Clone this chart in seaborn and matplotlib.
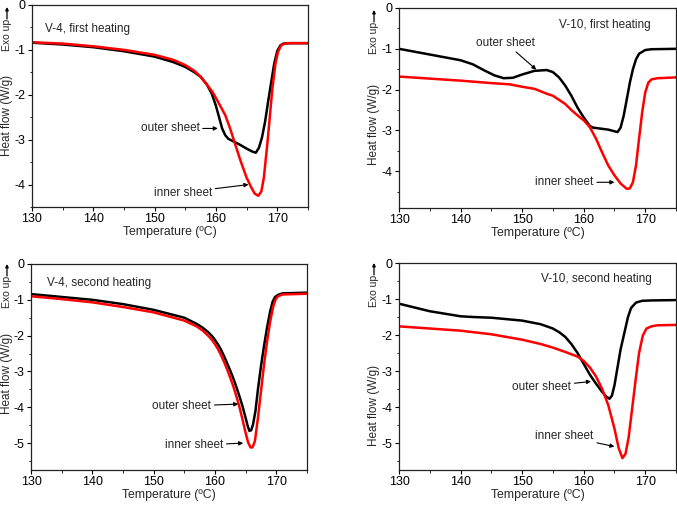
import numpy as np
import pandas as pd
import seaborn as sns
import matplotlib
matplotlib.use("Agg")
import matplotlib.pyplot as plt
from matplotlib.ticker import MultipleLocator

# ---------------- data ----------------
# V-4, first heating
t_v4_1_outer = [130, 135, 140, 145, 150, 153, 155, 156.5, 157.5, 158.5, 159.3, 160, 160.5, 161, 161.5, 162, 163, 164, 165, 166, 166.5, 167, 167.5, 168, 168.5, 169, 169.5, 170, 170.5, 171, 172, 175]
h_v4_1_outer = [-0.84, -0.88, -0.94, -1.03, -1.15, -1.27, -1.38, -1.5, -1.6, -1.77, -1.97, -2.25, -2.5, -2.75, -2.9, -2.98, -3.05, -3.12, -3.2, -3.27, -3.29, -3.18, -2.95, -2.6, -2.15, -1.72, -1.3, -1.02, -0.9, -0.86, -0.85, -0.85]
t_v4_1_inner = [130, 135, 140, 145, 150, 153, 155, 156.5, 157.5, 158.5, 159.5, 160.5, 161.5, 162.3, 163, 164, 165, 165.7, 166.3, 166.9, 167.4, 167.8, 168.4, 169.2, 169.7, 170.1, 170.6, 171.2, 172, 175]
h_v4_1_inner = [-0.83, -0.86, -0.92, -1.0, -1.11, -1.22, -1.34, -1.47, -1.6, -1.77, -1.95, -2.2, -2.45, -2.75, -3.05, -3.47, -3.85, -4.05, -4.2, -4.25, -4.15, -3.85, -3.05, -1.85, -1.3, -1.05, -0.9, -0.86, -0.85, -0.85]

# V-10, first heating
t_v10_1_outer = [130, 135, 140, 142, 144, 145.5, 147, 148.5, 150, 152, 154, 155, 156, 157, 158, 159, 160, 161, 161.5, 162.5, 164, 165, 165.5, 166, 166.5, 167, 167.5, 168, 168.5, 169, 170, 171, 175]
h_v10_1_outer = [-1.0, -1.14, -1.28, -1.38, -1.54, -1.65, -1.72, -1.71, -1.63, -1.54, -1.52, -1.57, -1.7, -1.9, -2.15, -2.44, -2.68, -2.89, -2.93, -2.95, -2.98, -3.02, -3.04, -2.93, -2.64, -2.24, -1.83, -1.5, -1.26, -1.12, -1.03, -1.01, -1.0]
t_v10_1_inner = [130, 135, 140, 145, 148, 150, 152, 154, 155, 156, 157, 158, 159, 160, 161, 162, 163, 164, 165, 166, 167, 167.5, 168, 168.5, 169, 169.5, 170, 170.5, 171, 172, 175]
h_v10_1_inner = [-1.68, -1.73, -1.78, -1.84, -1.87, -1.93, -1.98, -2.1, -2.15, -2.25, -2.35, -2.5, -2.63, -2.75, -2.92, -3.2, -3.54, -3.86, -4.1, -4.3, -4.43, -4.42, -4.27, -3.86, -3.2, -2.56, -2.07, -1.83, -1.75, -1.72, -1.7]

# V-4, second heating
t_v4_2_outer = [130, 135, 140, 145, 150, 155, 157, 158, 159, 159.5, 160, 160.5, 161, 161.5, 162, 162.5, 163, 163.5, 164, 164.5, 165, 165.3, 165.6, 165.9, 166.2, 166.6, 167, 167.5, 168, 168.5, 169, 169.4, 169.8, 170.3, 171, 175]
h_v4_2_outer = [-0.84, -0.92, -1.0, -1.12, -1.28, -1.5, -1.67, -1.78, -1.92, -2.01, -2.12, -2.25, -2.4, -2.58, -2.78, -2.98, -3.2, -3.44, -3.7, -3.98, -4.3, -4.5, -4.66, -4.64, -4.48, -4.1, -3.5, -2.85, -2.28, -1.76, -1.32, -1.05, -0.92, -0.86, -0.82, -0.8]
t_v4_2_inner = [130, 135, 140, 145, 150, 155, 157, 158, 159, 159.5, 160, 160.5, 161, 161.5, 162, 162.5, 163, 163.5, 164, 164.5, 165, 165.4, 165.8, 166.1, 166.5, 167, 167.5, 168, 168.5, 169, 169.5, 169.9, 170.3, 171, 175]
h_v4_2_inner = [-0.9, -0.98, -1.07, -1.2, -1.35, -1.58, -1.74, -1.86, -2.02, -2.12, -2.24, -2.38, -2.55, -2.74, -2.95, -3.18, -3.42, -3.7, -4.0, -4.35, -4.72, -4.98, -5.12, -5.12, -4.95, -4.3, -3.55, -2.8, -2.15, -1.6, -1.18, -0.98, -0.9, -0.85, -0.83]

# V-10, second heating
t_v10_2_outer = [130, 135, 140, 142, 145, 150, 153, 155, 156, 157, 158, 159, 160, 161, 162, 163, 163.7, 164.2, 164.6, 165, 165.5, 166, 166.6, 167.2, 167.7, 168.5, 169.5, 171, 175]
h_v10_2_outer = [-1.13, -1.34, -1.48, -1.5, -1.52, -1.6, -1.7, -1.82, -1.92, -2.05, -2.25, -2.5, -2.8, -3.1, -3.35, -3.58, -3.72, -3.77, -3.68, -3.4, -2.9, -2.4, -1.95, -1.5, -1.25, -1.1, -1.05, -1.04, -1.03]
t_v10_2_inner = [130, 135, 140, 145, 150, 153, 155, 157, 159, 160, 161, 162, 163, 164, 165, 165.7, 166.3, 166.8, 167.3, 167.8, 168.4, 169, 169.6, 170.2, 171, 172, 175]
h_v10_2_inner = [-1.76, -1.82, -1.88, -1.98, -2.13, -2.25, -2.35, -2.47, -2.6, -2.72, -2.9, -3.15, -3.5, -3.95, -4.6, -5.15, -5.42, -5.3, -4.85, -4.15, -3.3, -2.5, -2.02, -1.82, -1.76, -1.73, -1.72]

panel_titles = ["V-4, first heating", "V-10, first heating", "V-4, second heating", "V-10, second heating"]
y_bottoms = [-4.5, -4.9, -5.75, -5.75]
x_ticks = [130, 140, 150, 160, 170]

# ---------------- style ----------------
sns.set_style("ticks")
plt.rcParams["font.family"] = ["Liberation Sans", "DejaVu Sans"]
plt.rcParams["axes.unicode_minus"] = False

W, H = 677, 505
fig = plt.figure(figsize=(W / 100, H / 100), dpi=100)

# axes boxes in pixels: left, right, top, bottom
boxes = [(32, 308, 5, 207), (399, 676, 8, 208), (31, 307, 264, 470), (399, 676, 263, 470)]

curves = [
    (t_v4_1_outer, h_v4_1_outer, t_v4_1_inner, h_v4_1_inner),
    (t_v10_1_outer, h_v10_1_outer, t_v10_1_inner, h_v10_1_inner),
    (t_v4_2_outer, h_v4_2_outer, t_v4_2_inner, h_v4_2_inner),
    (t_v10_2_outer, h_v10_2_outer, t_v10_2_inner, h_v10_2_inner),
]

title_pos = [(132.2, -0.54), (156.0, -0.41), (132.6, -0.53), (153.0, -0.44)]
outer_ann = [((152.5, -2.75), (160.3, -2.75)),
             ((147.3, -0.85), (152.3, -1.51)),
             ((154.6, -3.97), (163.8, -3.91)),
             ((153.2, -3.44), (161.2, -3.29))]
inner_ann = [((154.6, -4.18), (165.3, -4.0)),
             ((156.9, -4.27), (165.0, -4.27)),
             ((156.6, -5.06), (164.6, -5.0)),
             ((156.9, -4.80), (165.0, -5.1))]

heat_lbl = [(7, 115), (374, 124), (7, 373), (374, 405)]
exo_lbl = [(7, 35), (374, 38), (7, 292), (374, 291)]     # centre of "Exo up" text
arrow_span = [(19, 7), (22, 10), (276, 264), (275, 263)]  # arrow tail y, head y

fs = 8.5
tfs = 9.0
for i, ((l, r, t, b), (to, ho, ti, hi)) in enumerate(zip(boxes, curves)):
    ax = fig.add_axes([l / W, 1 - b / H, (r - l) / W, (b - t) / H])
    sns.lineplot(x=to, y=ho, ax=ax, color="black", lw=1.8, sort=False, estimator=None)
    sns.lineplot(x=ti, y=hi, ax=ax, color="#ff0000", lw=1.8, sort=False, estimator=None)
    ax.set_xlim(130, 175)
    ax.set_ylim(y_bottoms[i], 0)
    ax.set_xticks(x_ticks)
    ax.xaxis.set_minor_locator(MultipleLocator(5))
    ax.yaxis.set_major_locator(MultipleLocator(1))
    ax.yaxis.set_minor_locator(MultipleLocator(0.5))
    ax.set_yticklabels([f"{int(round(v))}" for v in ax.get_yticks()])
    ax.set_ylim(y_bottoms[i], 0)
    ax.tick_params(which="major", length=3, width=0.8, direction="out", labelsize=tfs, pad=1.5, colors="black")
    ax.tick_params(which="minor", length=1.8, width=0.7, direction="out")
    for s in ax.spines.values():
        s.set_linewidth(0.9)
        s.set_color("#222222")
    ax.set_xlabel("Temperature (ºC)", fontsize=fs + 0.3, labelpad=0.5)
    ax.set_ylabel("")
    ax.text(*title_pos[i], panel_titles[i], fontsize=fs, ha="left", va="center")
    (otx, oty), (ohx, ohy) = outer_ann[i]
    ax.annotate("outer sheet", xy=(ohx, ohy), xytext=(otx, oty), fontsize=fs, ha="center", va="center",
                arrowprops=dict(arrowstyle="-|>", color="black", lw=0.8, mutation_scale=6, shrinkA=0, shrinkB=0))
    (itx, ity), (ihx, ihy) = inner_ann[i]
    ax.annotate("inner sheet", xy=(ihx, ihy), xytext=(itx, ity), fontsize=fs, ha="center", va="center",
                arrowprops=dict(arrowstyle="-|>", color="black", lw=0.8, mutation_scale=6, shrinkA=0, shrinkB=0))
    hx, hy = heat_lbl[i]
    fig.text(hx / W, 1 - hy / H, "Heat flow (W/g)", rotation=90, fontsize=fs, ha="center", va="center")
    ex, ey = exo_lbl[i]
    fig.text(ex / W, 1 - ey / H, "Exo up", rotation=90, fontsize=7.5, ha="center", va="center")
    y0, y1 = arrow_span[i]
    fig.add_artist(matplotlib.patches.FancyArrowPatch((ex / W, 1 - y0 / H), (ex / W, 1 - y1 / H),
                                                      transform=fig.transFigure, arrowstyle="-|>",
                                                      mutation_scale=4.5, lw=0.9, color="black",
                                                      shrinkA=0, shrinkB=0))

fig.savefig("out.png", dpi=100)
